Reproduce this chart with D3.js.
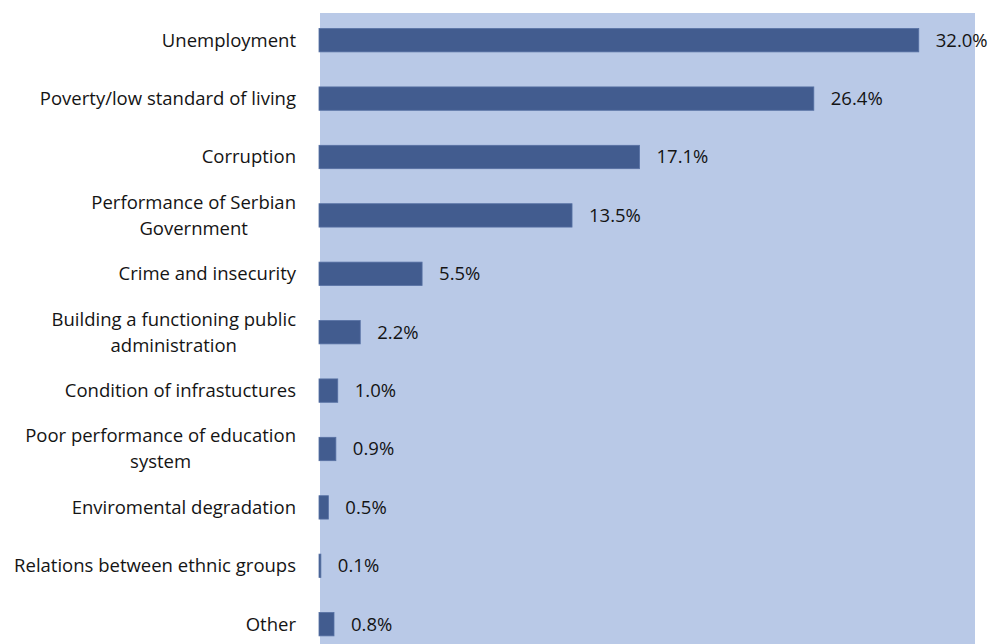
<!DOCTYPE html>
<html>
<head>
<meta charset="utf-8">
<script src="https://cdn.jsdelivr.net/npm/d3@7"></script>
<style>
    body { margin: 0; background: #fff; }
    svg text { font-family: "Open Sans", "Lato", sans-serif; fill: #141414; }
</style>
</head>
<body>
<svg id="chart"></svg>
<script>
// Categories (each entry is the label split over its lines)
const categories = [
    ['Unemployment'],
    ['Poverty/low standard of living'],
    ['Corruption'],
    ['Performance of Serbian', 'Government'],
    ['Crime and insecurity'],
    ['Building a functioning public', 'administration'],
    ['Condition of infrastuctures'],
    ['Poor performance of education', 'system'],
    ['Enviromental degradation'],
    ['Relations between ethnic groups'],
    ['Other']
];
const values = [32.0, 26.4, 17.1, 13.5, 5.5, 2.2, 1.0, 0.9, 0.5, 0.1, 0.8];
const xMax = 35;

const width = 988, height = 644;
const fontSize = 18.5;

const svg = d3.select('#chart')
    .attr('width', width)
    .attr('height', height);

const data = categories.map((c, i) => ({ key: c.join(' '), lines: c, value: values[i] }));

const xScale = d3.scaleLinear()
    .domain([0, xMax])
    .range([319, 975]);

const yScale = d3.scaleBand()
    .domain(data.map(d => d.key))
    .range([11, 11 + 58.4 * data.length])
    .paddingInner(0.6)
    .paddingOuter(0.3);

// plot background
svg.append('rect')
    .attr('x', 320)
    .attr('y', 13)
    .attr('width', xScale(xMax) - 320)
    .attr('height', height - 13)
    .attr('fill', '#B9C9E7');

// bars
svg.selectAll('.bar')
    .data(data)
    .join('rect')
    .attr('class', 'bar')
    .attr('x', xScale(0))
    .attr('y', d => yScale(d.key))
    .attr('width', d => xScale(d.value) - xScale(0))
    .attr('height', yScale.bandwidth())
    .attr('fill', '#425C8F')
    .attr('stroke', '#5670A3')
    .attr('stroke-width', 0.8);

// value labels
svg.selectAll('.value')
    .data(data)
    .join('text')
    .attr('class', 'value')
    .attr('x', d => xScale(d.value) + 17)
    .attr('y', d => yScale(d.key) + yScale.bandwidth() / 2)
    .attr('dy', '0.35em')
    .style('font-size', fontSize + 'px')
    .text(d => d3.format('.1f')(d.value) + '%');

// category labels, multi-line ones centred under the right edge
const labelRight = 296;
const lineGap = 26;
const labels = svg.selectAll('.cat')
    .data(data)
    .join('text')
    .attr('class', 'cat')
    .attr('y', d => yScale(d.key) + yScale.bandwidth() / 2)
    .style('font-size', fontSize + 'px');

labels.each(function(d) {
    const g = d3.select(this);
    const n = d.lines.length;
    const cy = yScale(d.key) + yScale.bandwidth() / 2;
    d.lines.forEach((line, i) => {
        g.append('tspan')
            .attr('y', cy + (i - (n - 1) / 2) * lineGap)
            .attr('dy', '0.35em')
            .text(line);
    });
    if (n === 1) {
        g.attr('text-anchor', 'end');
        g.selectAll('tspan').attr('x', labelRight);
    } else {
        let maxW = 0;
        g.selectAll('tspan').each(function() {
            maxW = Math.max(maxW, this.getComputedTextLength());
        });
        g.attr('text-anchor', 'middle');
        g.selectAll('tspan').attr('x', labelRight - maxW / 2);
    }
});
</script>
</body>
</html>
